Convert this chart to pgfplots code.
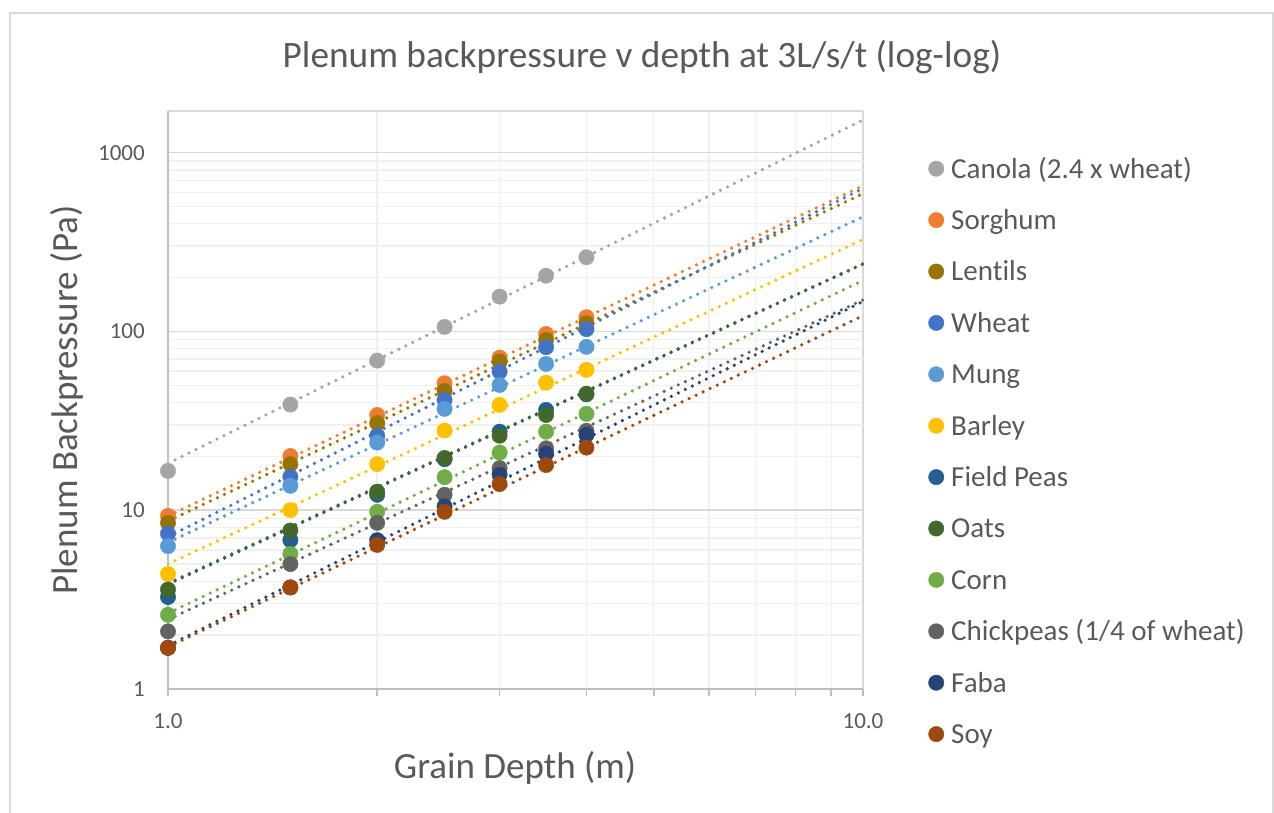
\documentclass[border=0pt]{standalone}
\usepackage{fontspec}
\setmainfont{Carlito}[Ligatures=NoCommon]
\usepackage{pgfplots}
\pgfplotsset{compat=1.18}
\definecolor{txt}{HTML}{595959}
\definecolor{axgray}{HTML}{BFBFBF}
\definecolor{majgrid}{HTML}{D9D9D9}
\definecolor{mingrid}{HTML}{F0F0F0}
\definecolor{cCanola}{HTML}{A5A5A5}
\definecolor{cSorghum}{HTML}{ED7D31}
\definecolor{cLentils}{HTML}{997300}
\definecolor{cWheat}{HTML}{4472C4}
\definecolor{cMung}{HTML}{5B9BD5}
\definecolor{cBarley}{HTML}{FFC000}
\definecolor{cPeas}{HTML}{255E91}
\definecolor{cOats}{HTML}{43682B}
\definecolor{cCorn}{HTML}{70AD47}
\definecolor{cChick}{HTML}{636363}
\definecolor{cFaba}{HTML}{264478}
\definecolor{cSoy}{HTML}{9E480E}
\pgfplotsset{
  pt/.style={only marks, mark=*, mark size=7.7pt, color=#1, mark options={draw=#1, fill=#1}},
  tr/.style={forget plot, no marks, color=#1, line width=3.6pt, line cap=round, dash pattern=on 0pt off 7.8pt},
}
\begin{document}
\begin{tikzpicture}
\useasboundingbox (0pt,0pt) rectangle (1274pt,812pt);
\draw[majgrid, line width=1.5pt] (10pt,-2pt) -- (10pt,799pt) -- (1273pt,799pt) -- (1273pt,-2pt);
\node[text=txt, font=\fontsize{37.3}{41}\selectfont] at (642pt,755pt) {Plenum backpressure v depth at 3L/s/t (log-log)};
\node[text=txt, rotate=90, font=\fontsize{37}{42}\selectfont] at (67pt,412pt) {Plenum Backpressure (Pa)};
\node[text=txt, font=\fontsize{37}{42}\selectfont] at (515pt,44pt) {Grain Depth (m)};
\begin{axis}[
  at={(168pt,123pt)}, anchor=south west,
  width=695pt, height=578pt, scale only axis,
  xmode=log, ymode=log,
  xmin=1, xmax=10, ymin=1, ymax=1710,
  clip=false,
  axis line style={draw=none},
  xtick={1,10}, xticklabels={1.0,10.0},
  minor xtick={2,3,4,5,6,7,8,9},
  ytick={1,10,100,1000}, yticklabels={1,10,100,1000},
  minor ytick={2,3,4,5,6,7,8,9,20,30,40,50,60,70,80,90,200,300,400,500,600,700,800,900},
  xmajorgrids=true, ymajorgrids=true, xminorgrids=true, yminorgrids=true,
  major grid style={majgrid, line width=1.5pt},
  minor grid style={mingrid, line width=1.4pt},
  tick align=outside,
  major tick length=7pt, minor tick length=7pt,
  xtick pos=bottom, ytick pos=left,
  x tick style={axgray, line width=1.5pt},
  minor x tick style={axgray, line width=1.5pt},
  y tick style={draw=none},
  minor y tick style={draw=none},
  xticklabel style={inner sep=0pt, yshift=-17pt, text=txt, font=\fontsize{23}{26}\selectfont},
  yticklabel style={inner sep=0pt, xshift=-16pt, text=txt, font=\fontsize{23}{26}\selectfont},
  legend image code/.code={\draw[#1] plot coordinates {(0pt,0pt)};},
  legend cell align=left,
  legend style={draw=none, fill=none, at={(1.094,0.927)}, anchor=north west,
    inner sep=0pt, row sep=20.8pt, column sep=7.3pt,
    font=\fontsize{29}{32}\selectfont, text=txt,
    nodes={inner sep=0pt, text height=24.6pt, text depth=6pt}},
]
\addplot[pt=cCanola] coordinates {(1,16.6)(1.5,39)(2,68.7)(2.5,106)(3,156.6)(3.5,205)(4,260)};
\addlegendentry{Canola (2.4 x wheat)}
\addplot[pt=cSorghum] coordinates {(1,9.3)(1.5,20.1)(2,34.1)(2.5,51.3)(3,71.4)(3.5,96.8)(4,120)};
\addlegendentry{Sorghum}
\addplot[pt=cLentils] coordinates {(1,8.5)(1.5,18.1)(2,30.7)(2.5,46.5)(3,67.8)(3.5,89.6)(4,111)};
\addlegendentry{Lentils}
\addplot[pt=cWheat] coordinates {(1,7.4)(1.5,15.4)(2,26.1)(2.5,41.4)(3,59.6)(3.5,81.6)(4,103)};
\addlegendentry{Wheat}
\addplot[pt=cMung] coordinates {(1,6.3)(1.5,13.7)(2,23.9)(2.5,36.9)(3,50.2)(3.5,65.8)(4,82)};
\addlegendentry{Mung}
\addplot[pt=cBarley] coordinates {(1,4.4)(1.5,10.0)(2,18.1)(2.5,27.9)(3,38.8)(3.5,51.7)(4,61)};
\addlegendentry{Barley}
\addplot[pt=cPeas] coordinates {(1,3.27)(1.5,6.8)(2,12.2)(2.5,19.3)(3,27.5)(3.5,36.4)(4,44.5)};
\addlegendentry{Field Peas}
\addplot[pt=cOats] coordinates {(1,3.6)(1.5,7.7)(2,12.7)(2.5,19.6)(3,26.1)(3.5,34.1)(4,44.8)};
\addlegendentry{Oats}
\addplot[pt=cCorn] coordinates {(1,2.6)(1.5,5.7)(2,9.8)(2.5,15.3)(3,21.0)(3.5,27.5)(4,34.6)};
\addlegendentry{Corn}
\addplot[pt=cChick] coordinates {(1,2.1)(1.5,5.0)(2,8.5)(2.5,12.2)(3,17.2)(3.5,22.2)(4,27.8)};
\addlegendentry{Chickpeas (1/4 of wheat)}
\addplot[pt=cFaba] coordinates {(1,1.7)(1.5,3.7)(2,6.8)(2.5,10.5)(3,15.8)(3.5,20.7)(4,26.4)};
\addlegendentry{Faba}
\addplot[pt=cSoy] coordinates {(1,1.7)(1.5,3.7)(2,6.4)(2.5,9.8)(3,14.0)(3.5,17.9)(4,22.4)};
\addlegendentry{Soy}
% power trendlines
\addplot[tr=cCanola] coordinates {(1,18.3)(10,1525)};
\addplot[tr=cSorghum] coordinates {(1,9.3)(10,653)};
\addplot[tr=cLentils] coordinates {(1,8.7)(10,590)};
\addplot[tr=cWheat] coordinates {(1,7.1)(10,631)};
\addplot[tr=cMung] coordinates {(1,6.6)(10,438)};
\addplot[tr=cBarley] coordinates {(1,5.0)(10,327)};
\addplot[tr=cPeas] coordinates {(1,3.85)(10,238)};
\addplot[tr=cOats] coordinates {(1,3.9)(10,239)};
\addplot[tr=cCorn] coordinates {(1,2.65)(10,193)};
\addplot[tr=cChick] coordinates {(1,2.45)(10,150)};
\addplot[tr=cFaba] coordinates {(1,1.75)(10,147)};
\addplot[tr=cSoy] coordinates {(1,1.72)(10,122.5)};
\draw[majgrid, line width=1.3pt] (rel axis cs:0,1) -- (rel axis cs:1,1);
\draw[axgray, line width=1.5pt] (rel axis cs:0,1) -- (rel axis cs:0,0) -- (rel axis cs:1,0);
\end{axis}
\end{tikzpicture}
\end{document}
